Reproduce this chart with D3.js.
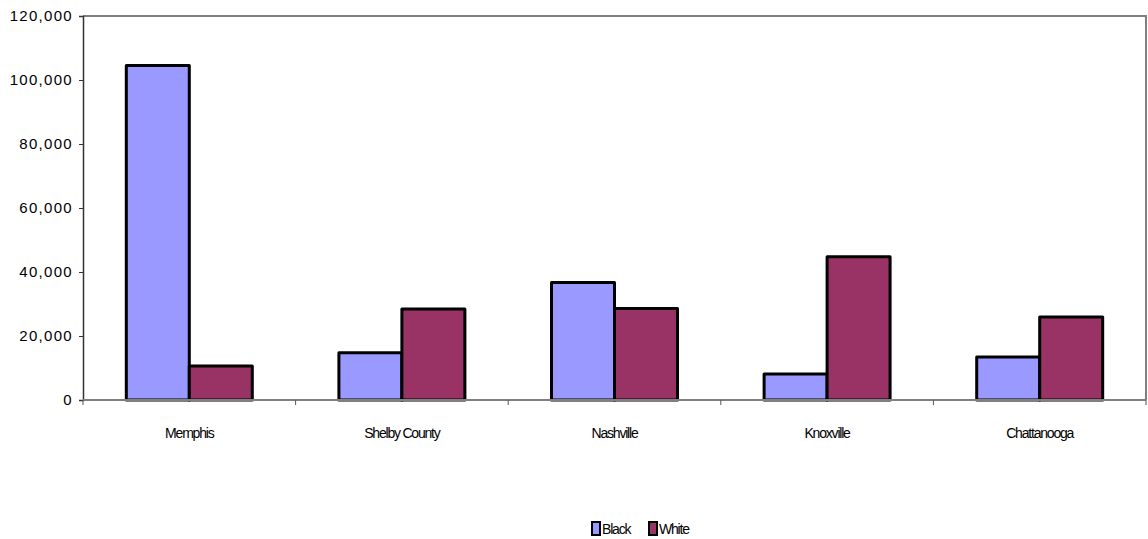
<!DOCTYPE html>
<html>
<head>
<meta charset="utf-8">
<script src="https://cdn.jsdelivr.net/npm/d3@7"></script>
<style>
  html, body { margin: 0; padding: 0; background: #fff; }
  svg { display: block; font-family: "Liberation Sans", Arial, sans-serif; }
</style>
</head>
<body>
<svg id="chart" width="1148" height="539"></svg>
<script>
// Population by group for five Tennessee jurisdictions
const categories = ["Memphis", "Shelby County", "Nashville", "Knoxville", "Chattanooga"];
const seriesNames = ["Black", "White"];
const blackValues = [104500, 14800, 36700, 8100, 13400];
const whiteValues = [10600, 28400, 28600, 44800, 25900];
const yTicks = [0, 20000, 40000, 60000, 80000, 100000, 120000];
const seriesColors = ["#9999FF", "#993366"];

const svg = d3.select("#chart");
const plot = { left: 83, top: 16, right: 1146, bottom: 400 };

const x = d3.scaleBand().domain(categories).range([plot.left, plot.right]).paddingInner(0).paddingOuter(0);
const inner = d3.scaleBand().domain(seriesNames).range([0, x.bandwidth()]).paddingInner(0).paddingOuter(0.6875);
const y = d3.scaleLinear().domain([0, 120000]).range([plot.bottom, plot.top]);

const rows = categories.map((c, i) => ({ category: c, values: [blackValues[i], whiteValues[i]] }));

// plot-area frame (top and right)
svg.append("path")
  .attr("d", `M${plot.left},${plot.top}H${plot.right}V${plot.bottom}`)
  .attr("fill", "none").attr("stroke", "#808080").attr("stroke-width", 2);

// bars
const groups = svg.append("g").selectAll("g").data(rows).join("g")
  .attr("transform", d => `translate(${x(d.category)},0)`);
groups.selectAll("rect")
  .data(d => d.values.map((v, k) => ({ key: seriesNames[k], value: v, k })))
  .join("rect")
  .attr("x", d => inner(d.key))
  .attr("y", d => y(d.value))
  .attr("width", inner.bandwidth())
  .attr("height", d => y(0) - y(d.value))
  .attr("fill", d => seriesColors[d.k])
  .attr("stroke", "#000")
  .attr("stroke-width", 3)
  .attr("stroke-linejoin", "round");

// y axis
const yAxis = svg.append("g")
  .attr("transform", `translate(${plot.left},0)`)
  .call(d3.axisLeft(y).tickValues(yTicks).tickSize(4).tickPadding(6)
    .tickFormat(d3.format(",")));
yAxis.select(".domain").attr("stroke", "#333").attr("stroke-width", 1.5);
yAxis.selectAll(".tick line").attr("stroke", "#333");
yAxis.selectAll(".tick text").attr("font-size", 15).attr("fill", "#000")
  .attr("letter-spacing", "1.3px")
  .attr("font-family", "'Liberation Sans', Arial, sans-serif");

// x axis: baseline with ticks at category boundaries
const xAxisG = svg.append("g");
xAxisG.append("line")
  .attr("x1", plot.left).attr("x2", plot.right)
  .attr("y1", plot.bottom).attr("y2", plot.bottom)
  .attr("stroke", "#808080").attr("stroke-width", 2);
const boundaries = categories.map(c => x(c) + x.bandwidth()).concat([x(categories[0])]);
xAxisG.selectAll("line.tk").data(boundaries).join("line").attr("class", "tk")
  .attr("x1", d => d).attr("x2", d => d)
  .attr("y1", plot.bottom).attr("y2", plot.bottom + 5)
  .attr("stroke", "#555").attr("stroke-width", 1);
xAxisG.selectAll("text").data(categories).join("text")
  .attr("x", d => x(d) + x.bandwidth() / 2)
  .attr("y", 438)
  .attr("text-anchor", "middle")
  .attr("font-size", 14)
  .attr("letter-spacing", "-1.2px")
  .attr("fill", "#000")
  .text(d => d);

// legend
const legend = svg.append("g");
const legendItems = [
  { name: seriesNames[0], color: seriesColors[0], x: 591 },
  { name: seriesNames[1], color: seriesColors[1], x: 648 }
];
legendItems.forEach(it => {
  legend.append("rect")
    .attr("x", it.x + 1).attr("y", 522).attr("width", 8).attr("height", 13)
    .attr("fill", it.color).attr("stroke", "#000").attr("stroke-width", 2);
  legend.append("text")
    .attr("x", it.x + 11).attr("y", 534)
    .attr("font-size", 14).attr("letter-spacing", "-1.2px")
    .attr("fill", "#000")
    .text(it.name);
});
</script>
</body>
</html>
